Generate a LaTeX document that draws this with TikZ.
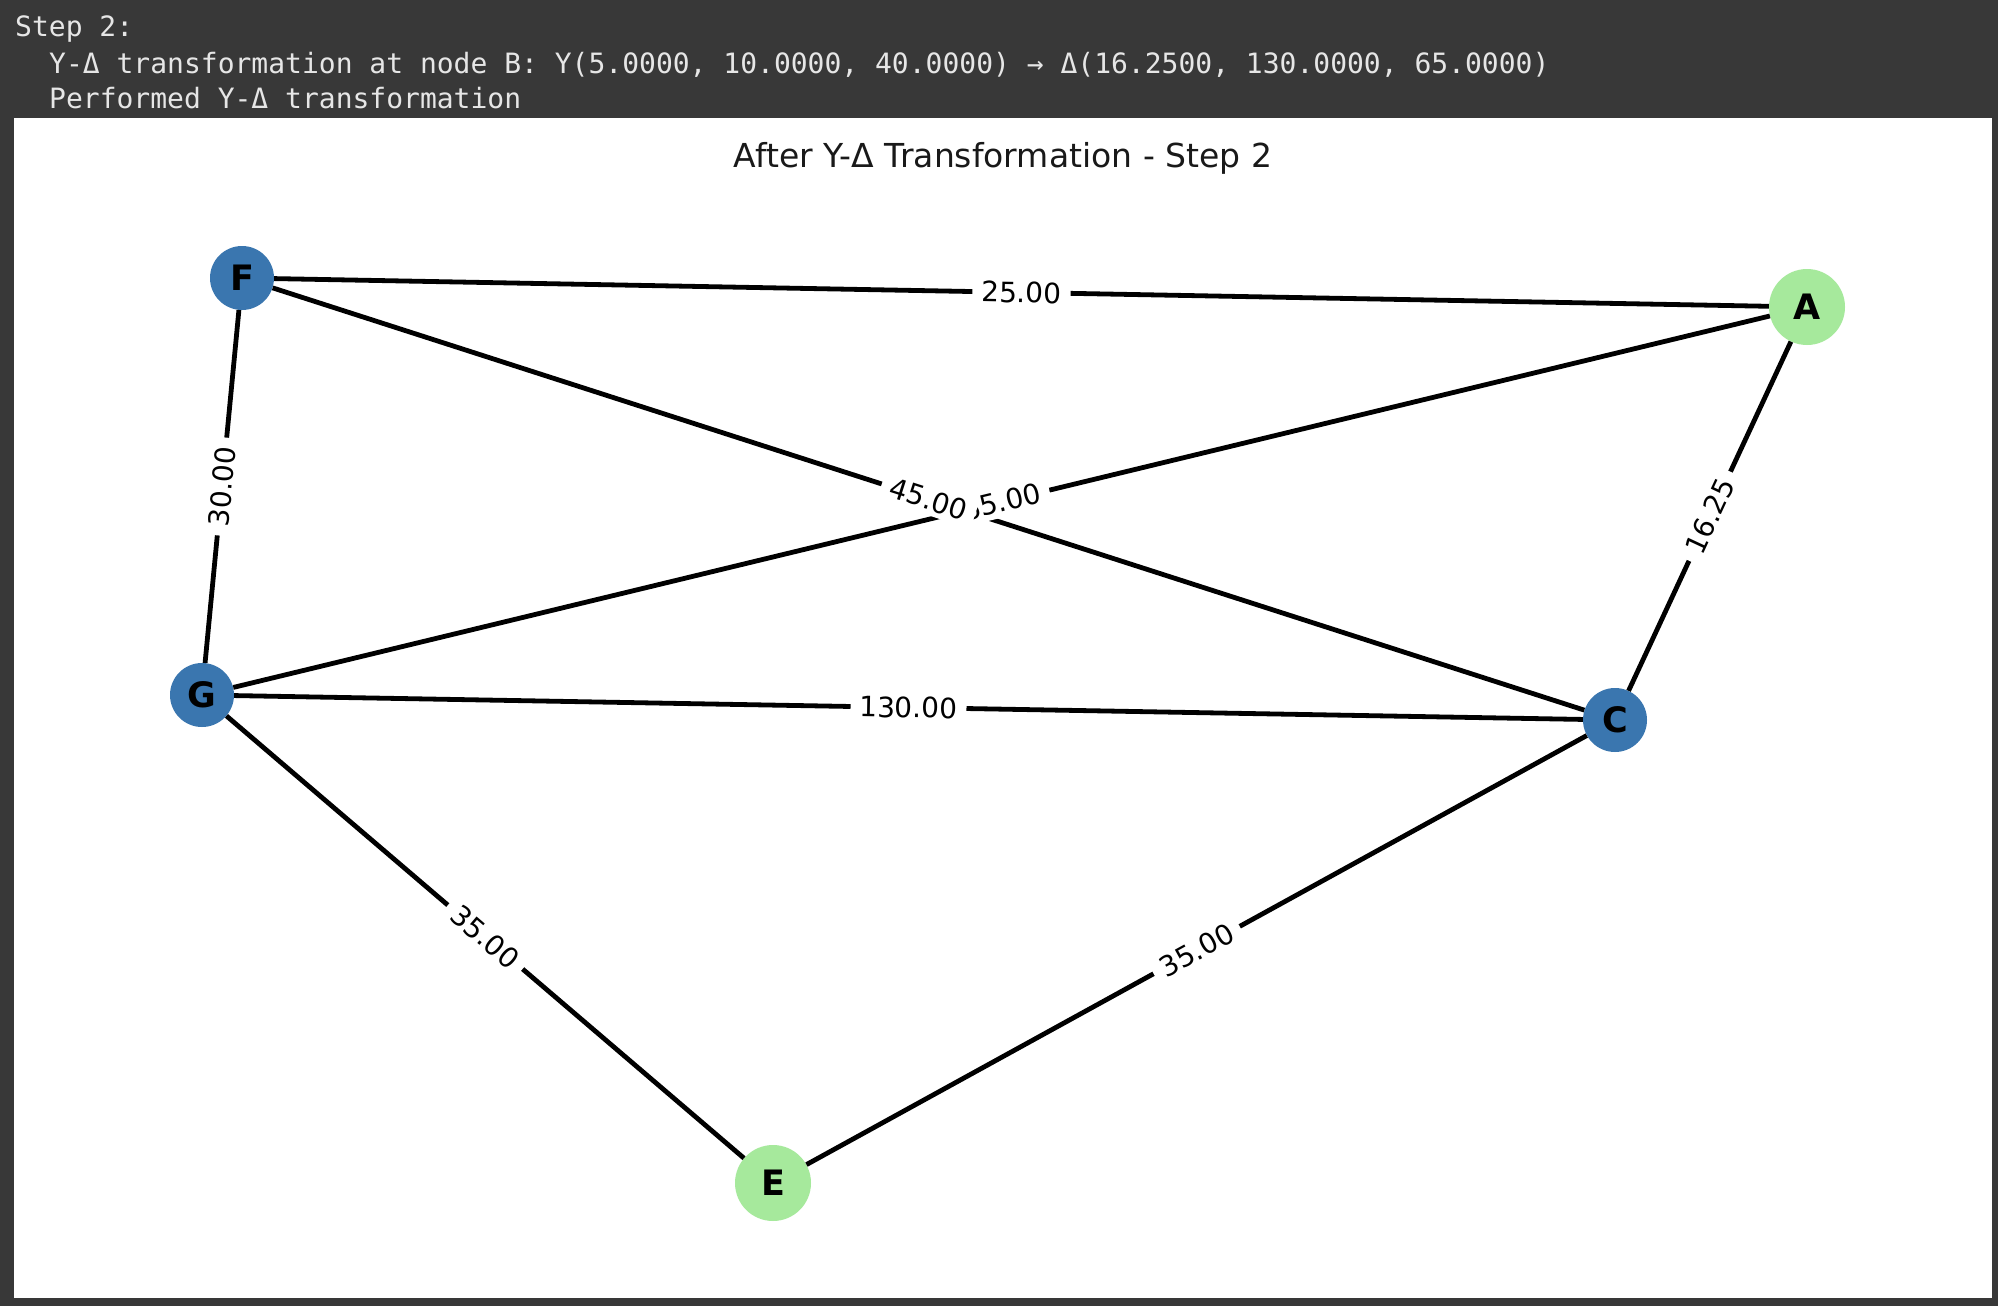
\documentclass[tikz,border=0pt]{standalone}
\usepackage{fontspec}
\setmainfont{DejaVu Sans}
\newfontfamily\monofont{DejaVu Sans Mono}
\usepackage{tikz}

\definecolor{panelbg}{HTML}{383838}
\definecolor{headtext}{HTML}{E6E6E6}
\definecolor{nodeblue}{HTML}{3A76AF}
\definecolor{nodegreen}{HTML}{A6E99C}

\tikzset{
  vblue/.style={circle,fill=nodeblue,minimum size=64pt,inner sep=0pt,font=\fontsize{35}{35}\selectfont\bfseries},
  vgreen/.style={circle,fill=nodegreen,minimum size=76pt,inner sep=0pt,font=\fontsize{35}{35}\selectfont\bfseries},
  wire/.style={line width=4.8pt},
  weight/.style={sloped,fill=white,inner xsep=9pt,inner ysep=5pt,font=\fontsize{28}{28}\selectfont},
  headline/.style={anchor=base west,inner sep=0pt,text=headtext,font=\monofont\fontsize{28}{28}\selectfont},
}

\begin{document}
\begin{tikzpicture}[x=1pt,y=-1pt]
			\useasboundingbox (0,0) rectangle (1998,1306);
			\fill[panelbg] (0,0) rectangle (1998,1306);
			\fill[white] (14,118) rectangle (1992,1298);
			
			\node[headline] (step)at(15,37) {Step 2:};
			\node[headline] (info)at(49,74) {Y-Δ transformation at node B: Y(5.0000, 10.0000, 40.0000) → Δ(16.2500, 130.0000, 65.0000)};
			\node[headline] (done)at(49,108) {Performed Y-Δ transformation};
			\node[anchor=base,inner sep=0pt,text=black!90,font=\fontsize{33}{33}\selectfont] (title)at(1003,167) {After Y-Δ Transformation - Step 2};
			
			\node[vblue] (F)at(242,278) {F};
			\node[vgreen] (A)at(1807,307) {A};
			\node[vblue] (G)at(202,695) {G};
			\node[vblue] (C)at(1615,720) {C};
			\node[vgreen] (E)at(773,1183) {E};
			
			\draw[wire] (F) -- (A);
			\draw[wire] (F) -- (G);
			\draw[wire] (F) -- (C);
			\draw[wire] (G) -- (A);
			\draw[wire] (A) -- (C);
			\draw[wire] (G) -- (C);
			\draw[wire] (G) -- (E);
			\draw[wire] (C) -- (E);
			
			\path (F) -- node[weight] {25.00} (A);
			\path (F) -- node[weight] {30.00} (G);
			\path (G) -- node[weight] {65.00} (A);
			\path (F) -- node[weight] {45.00} (C);
			\path (A) -- node[weight] {16.25} (C);
			\path (G) -- node[weight] {130.00} (C);
			\path (G) -- node[weight] {35.00} (E);
			\path (C) -- node[weight] {35.00} (E);
		\end{tikzpicture}
\end{document}
